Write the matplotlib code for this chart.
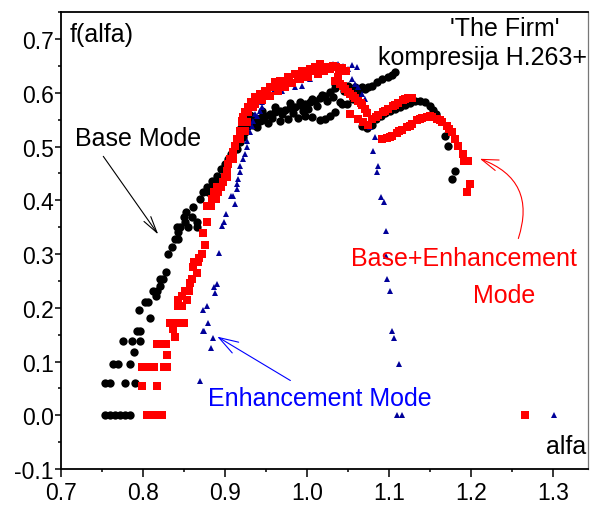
import matplotlib
matplotlib.use("Agg")
import matplotlib.pyplot as plt
from matplotlib.ticker import MultipleLocator, FormatStrFormatter

plt.rcParams['font.family'] = ['Liberation Sans', 'DejaVu Sans']
plt.rcParams['axes.unicode_minus'] = False

# Base Mode (black circles)
base_x = [0.754, 0.760, 0.766, 0.772, 0.778, 0.785,
          0.754, 0.760, 0.778, 0.791,
          0.764, 0.770, 0.785, 0.789,
          0.776, 0.787, 0.797, 0.793, 0.797, 0.809, 0.795, 0.803, 0.807,
          0.816, 0.813, 0.817, 0.821, 0.821, 0.825, 0.828,
          0.831, 0.836, 0.840, 0.843, 0.843,
          0.842, 0.846, 0.855, 0.866, 0.851, 0.866, 0.850, 0.860, 0.853,
          0.861, 0.870, 0.874, 0.880, 0.878, 0.884, 0.885, 0.888, 0.891,
          0.895, 0.898, 0.900, 0.904, 0.908, 0.915, 0.919, 0.922, 0.925,
          0.929, 0.937, 0.943,
          0.919, 0.925, 0.931, 0.937, 0.943, 0.949, 0.955, 0.961, 0.967,
          0.974, 0.980, 0.986, 0.992, 0.998, 1.004, 1.010, 1.016, 1.022,
          1.028, 1.035,
          0.940, 0.953, 0.967, 0.977, 0.989, 0.998, 1.007, 1.016, 1.022,
          1.028, 1.035, 1.043,
          0.931, 0.946, 0.961, 0.980, 0.992, 1.007, 1.019,
          0.934, 0.946, 0.958, 0.970, 0.983, 0.995, 1.001, 1.013, 1.025,
          1.032,
          1.035, 1.041, 1.050, 1.059, 1.068, 1.075, 1.080, 1.086, 1.092,
          1.099, 1.108, 1.045, 1.054, 1.064, 1.071, 1.104,
          1.041, 1.049, 1.057, 1.063,
          1.068, 1.074, 1.080,
          1.085, 1.090, 1.095, 1.102, 1.108, 1.114, 1.120, 1.126, 1.132,
          1.138, 1.144, 1.150, 1.154, 1.158, 1.169, 1.172, 1.181, 1.177]
base_y = [0.000, 0.000, 0.000, 0.000, 0.000, 0.000,
          0.060, 0.060, 0.060, 0.060,
          0.095, 0.095, 0.095, 0.118,
          0.139, 0.139, 0.139, 0.157, 0.157, 0.181, 0.195, 0.211, 0.211,
          0.222, 0.232, 0.232, 0.241, 0.253, 0.253, 0.267,
          0.300, 0.313, 0.328, 0.328, 0.341,
          0.350, 0.350, 0.350, 0.350, 0.360, 0.360, 0.369, 0.369, 0.378,
          0.387, 0.402, 0.415, 0.415, 0.425, 0.425, 0.436, 0.436, 0.445,
          0.458, 0.458, 0.467, 0.477, 0.486, 0.495, 0.508, 0.518, 0.527,
          0.538, 0.547, 0.547,
          0.533, 0.542, 0.546, 0.549, 0.553, 0.557, 0.560, 0.564, 0.566,
          0.568, 0.572, 0.573, 0.577, 0.579, 0.583, 0.585, 0.590, 0.594,
          0.601, 0.609,
          0.536, 0.544, 0.547, 0.551, 0.553, 0.557, 0.555, 0.549, 0.551,
          0.557, 0.564, 0.579,
          0.559, 0.566, 0.573, 0.581, 0.583, 0.588, 0.596,
          0.540, 0.549, 0.553, 0.560, 0.562, 0.566, 0.570, 0.575, 0.585,
          0.592,
          0.616, 0.614, 0.613, 0.611, 0.611, 0.611, 0.613, 0.620, 0.626,
          0.629, 0.639, 0.604, 0.607, 0.605, 0.607, 0.633,
          0.583, 0.579, 0.588, 0.598,
          0.538, 0.534, 0.540,
          0.551, 0.557, 0.562, 0.566, 0.570, 0.573, 0.577, 0.581, 0.585,
          0.585, 0.583, 0.575, 0.568, 0.560, 0.520, 0.501, 0.454, 0.440]

# Base+Enhancement Mode (red squares)
be_x = [0.805, 0.811, 0.818, 0.824,
        0.799, 0.818,
        0.799, 0.804, 0.810, 0.814, 0.826, 0.830,
        0.830, 0.818, 0.823, 0.828, 0.839, 0.837,
        0.833, 0.838, 0.844, 0.850,
        0.843, 0.848, 0.843, 0.854, 0.848, 0.851, 0.856, 0.858, 0.860,
        0.866, 0.861, 0.863, 0.867, 0.869, 0.872, 0.876, 0.874,
        0.878, 0.878, 0.883, 0.884, 0.889, 0.887, 0.892, 0.891, 0.895,
        0.898, 0.900, 0.903, 0.903, 0.904, 0.906, 0.910, 0.910, 0.913,
        0.915, 0.919, 0.919, 0.925, 0.921, 0.927, 0.922, 0.925, 0.929,
        0.931, 0.935,
        0.921, 0.928, 0.937, 0.943, 0.949, 0.955, 0.961, 0.967, 0.977,
        0.986, 0.994, 1.004, 1.010, 1.016,
        0.937, 0.946, 0.955, 0.965, 0.974, 0.982, 0.992, 1.002,
        0.932, 0.940, 0.952, 0.960, 0.970, 0.979, 0.989, 0.998, 1.007,
        1.018, 1.025, 1.032, 1.039,
        1.014, 1.021, 1.028, 1.036, 1.043, 1.048,
        1.035, 1.041, 1.047, 1.053, 1.059, 1.063, 1.068, 1.071, 1.074,
        1.038, 1.044, 1.050, 1.056, 1.066,
        1.053,
        1.063, 1.069, 1.075,
        1.080, 1.087, 1.093, 1.099, 1.105, 1.111, 1.117, 1.124, 1.129,
        1.084, 1.096, 1.108, 1.120,
        1.092, 1.098, 1.104, 1.110, 1.116, 1.122, 1.129, 1.135, 1.141,
        1.147, 1.153, 1.159, 1.165, 1.171, 1.177, 1.181, 1.185, 1.190,
        1.101, 1.113, 1.126, 1.138, 1.150, 1.162, 1.174,
        1.192, 1.197, 1.199, 1.196,
        1.266]
be_y = [0.000, 0.000, 0.000, 0.000,
        0.055, 0.055,
        0.089, 0.089, 0.089, 0.089, 0.089, 0.089,
        0.112, 0.133, 0.133, 0.133, 0.146, 0.160,
        0.171, 0.171, 0.171, 0.171,
        0.204, 0.204, 0.215, 0.215, 0.222, 0.232, 0.232, 0.247, 0.253,
        0.265, 0.275, 0.285, 0.285, 0.293, 0.300, 0.317, 0.339,
        0.360, 0.389, 0.389, 0.402, 0.402, 0.415, 0.415, 0.425, 0.425,
        0.434, 0.443, 0.443, 0.454, 0.467, 0.477, 0.477, 0.490, 0.501,
        0.514, 0.514, 0.529, 0.529, 0.546, 0.546, 0.555, 0.564, 0.564,
        0.573, 0.573,
        0.547, 0.573, 0.592, 0.598, 0.603, 0.611, 0.620, 0.622, 0.629,
        0.635, 0.640, 0.644, 0.648, 0.653,
        0.579, 0.586, 0.594, 0.603, 0.611, 0.618, 0.626, 0.629,
        0.582, 0.588, 0.598, 0.611, 0.616, 0.622, 0.631, 0.635, 0.640,
        0.643, 0.648, 0.650, 0.644,
        0.635, 0.640, 0.644, 0.648, 0.646, 0.640,
        0.622, 0.616, 0.607, 0.598, 0.590, 0.585, 0.577, 0.570, 0.562,
        0.630, 0.612, 0.602, 0.594, 0.581,
        0.560,
        0.551, 0.546, 0.540,
        0.551, 0.559, 0.564, 0.570, 0.575, 0.581, 0.586, 0.590, 0.590,
        0.555, 0.567, 0.578, 0.588,
        0.514, 0.516, 0.520, 0.525, 0.531, 0.536, 0.542, 0.549, 0.553,
        0.555, 0.555, 0.551, 0.546, 0.538, 0.527, 0.514, 0.501, 0.486,
        0.518, 0.528, 0.539, 0.551, 0.556, 0.549, 0.532,
        0.473, 0.473, 0.430, 0.415,
        0.000]

# Enhancement Mode (blue triangles)
enh_x = [0.870, 0.883, 0.886, 0.873, 0.875, 0.880, 0.874, 0.878, 0.888,
         0.887, 0.891, 0.893,
         0.897, 0.899, 0.901, 0.913, 0.908, 0.910, 0.915, 0.915, 0.916,
         0.919, 0.919, 0.922, 0.925, 0.927, 0.927, 0.931, 0.933, 0.935,
         0.940, 0.943, 0.945, 0.946, 0.952, 0.959,
         0.937, 0.953, 0.970, 0.986, 0.994, 1.004, 1.014, 1.026, 1.038,
         1.050, 1.061, 0.974, 0.982, 0.992, 1.022, 1.032, 1.044, 1.055,
         1.055, 1.059, 1.063, 1.068, 1.071, 1.075, 1.077, 1.083, 1.081,
         1.087, 1.086, 1.091, 1.094, 1.097, 1.097, 1.098, 1.101, 1.104,
         1.107, 1.112, 1.110, 1.116,
         1.302]
enh_y = [0.064, 0.125, 0.144, 0.157, 0.157, 0.172, 0.195, 0.204, 0.227,
         0.239, 0.244, 0.302,
         0.352, 0.360, 0.374, 0.393, 0.408, 0.408, 0.421, 0.430, 0.440,
         0.452, 0.464, 0.477, 0.486, 0.499, 0.510, 0.527, 0.538, 0.547,
         0.557, 0.566, 0.573, 0.583, 0.592, 0.601,
         0.560, 0.592, 0.603, 0.611, 0.613, 0.626, 0.640, 0.650, 0.653,
         0.644, 0.648, 0.616, 0.622, 0.629, 0.644, 0.653, 0.650, 0.651,
         0.626, 0.616, 0.611, 0.598, 0.588, 0.570, 0.536, 0.518, 0.492,
         0.464, 0.452, 0.406, 0.397, 0.343, 0.296, 0.253, 0.231, 0.157,
         0.143, 0.095, 0.000, 0.000,
         0.000]

fig = plt.figure(figsize=(5.92, 5.10), dpi=100)
ax = fig.add_axes([0.1025, 0.0784, 0.8907, 0.8968])

ax.plot(base_x, base_y, 'o', color='black', ms=6.0, mew=0)
ax.plot(enh_x, enh_y, '^', color='#000099', ms=4.8, mew=0)
ax.plot(be_x, be_y, 's', color='#ff0000', ms=5.4, mew=0)

ax.set_xlim(0.7, 1.343)
ax.set_ylim(-0.1, 0.751)

ax.xaxis.set_major_locator(MultipleLocator(0.1))
ax.xaxis.set_minor_locator(MultipleLocator(0.05))
ax.yaxis.set_major_locator(MultipleLocator(0.1))
ax.yaxis.set_minor_locator(MultipleLocator(0.05))
ax.xaxis.set_major_formatter(FormatStrFormatter('%.1f'))
ax.yaxis.set_major_formatter(FormatStrFormatter('%.1f'))

ax.tick_params(axis='both', which='major', direction='out', labelsize=16.5,
               width=1.1, color='black')
ax.tick_params(axis='x', which='major', length=5.5, pad=3)
ax.tick_params(axis='y', which='major', length=4, pad=1)
ax.tick_params(axis='both', which='minor', direction='out', length=2.5, width=1.1)
ax.tick_params(top=False, right=False, which='both')

for side in ['left', 'bottom', 'top']:
    ax.spines[side].set_linewidth(1.3)
    ax.spines[side].set_color('black')
ax.spines['right'].set_linewidth(0.9)
ax.spines['right'].set_color('#777777')

fs = 18
ax.text(0.711, 0.696, 'f(alfa)', fontsize=fs, va='baseline')
ax.text(1.175, 0.707, "'The Firm'", fontsize=fs, va='baseline')
ax.text(1.087, 0.653, 'kompresija H.263+', fontsize=fs, va='baseline')
ax.text(0.717, 0.503, 'Base Mode', fontsize=fs, va='baseline')
ax.text(1.054, 0.2795, 'Base+Enhancement', fontsize=fs, va='baseline', color='#ff0000')
ax.text(1.203, 0.211, 'Mode', fontsize=fs, va='baseline', color='#ff0000')
ax.text(0.8796, 0.0196, 'Enhancement Mode', fontsize=fs, va='baseline', color='#0000ff')
ax.text(1.292, -0.070, 'alfa', fontsize=fs, va='baseline')

# arrows
ax.annotate('', xy=(0.821, 0.332), xytext=(0.750, 0.486),
            arrowprops=dict(arrowstyle='->,head_length=1.2,head_width=0.3',
                            color='black', lw=0.8))
ax.annotate('', xy=(0.888, 0.149), xytext=(0.983, 0.062),
            arrowprops=dict(arrowstyle='->,head_length=1.4,head_width=0.45',
                            color='#0000ff', lw=0.8))
ax.annotate('', xy=(1.208, 0.479), xytext=(1.257, 0.324),
            arrowprops=dict(arrowstyle='->,head_length=1.2,head_width=0.4',
                            color='#ff0000', lw=0.8,
                            connectionstyle='arc3,rad=0.5'))

fig.savefig('out.png', dpi=100)
